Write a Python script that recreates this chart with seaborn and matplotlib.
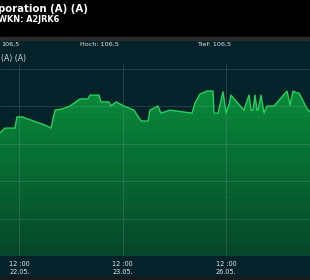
import numpy as np
import pandas as pd
import matplotlib
matplotlib.use("Agg")
import matplotlib.pyplot as plt
from matplotlib.patches import Rectangle, Polygon
from matplotlib.colors import LinearSegmentedColormap
import seaborn as sns

# ---- data (time in trading days from 22.05. 12:00, price) ----
t = [-0.189, -0.140, -0.044, -0.024, 0.024, 0.247, 0.305, 0.344, 0.412, 0.489,
     0.586, 0.663, 0.683, 0.770, 0.789, 0.867, 0.886, 0.935, 1.012, 1.109,
     1.177, 1.245, 1.264, 1.341, 1.370, 1.458, 1.671, 1.700, 1.748, 1.816,
     1.874, 1.884, 1.923, 1.971, 2.000, 2.029, 2.048, 2.174, 2.223, 2.242,
     2.262, 2.281, 2.300, 2.310, 2.339, 2.368, 2.397, 2.465, 2.591, 2.620,
     2.649, 2.688, 2.707, 2.785, 2.814]
price = [106.29, 106.42, 106.42, 106.72, 106.72, 106.50, 106.42, 106.90, 106.93, 107.01,
         107.20, 107.20, 107.30, 107.30, 107.12, 107.12, 107.01, 107.12, 107.01, 106.90,
         106.61, 106.61, 106.90, 107.01, 106.82, 106.90, 106.82, 107.09, 107.33, 107.41,
         107.41, 106.82, 106.82, 107.39, 106.82, 107.04, 107.30, 106.90, 107.30, 106.90,
         106.90, 107.30, 106.90, 106.90, 107.30, 106.82, 107.01, 107.01, 107.41, 107.04,
         107.41, 107.36, 107.36, 106.93, 106.85]
tick_pos = [0, 1, 2]
tick_labels = ["12 :00\n22.05.", "12 :00\n23.05.", "12 :00\n26.05."]
title = "poration (A) (A)"
wkn = "WKN: A2JRK6"
last_txt = "106,5"
hoch_txt = "Hoch: 106,5"
tief_txt = "Tief: 106,5"
sub_txt = "(A) (A)"

df = pd.DataFrame({"t": t, "price": price})

sns.set_theme(style="dark")
plt.rcParams["font.family"] = ["DejaVu Sans"]

W, H = 310, 280
fig = plt.figure(figsize=(W / 100, H / 100), dpi=100)
fig.patch.set_facecolor("#03222a")

def fy(py):
    return 1 - py / H

# top black band and grey strip, bottom strip
fig.patches.append(Rectangle((0, fy(37)), 1, 1, transform=fig.transFigure, color="#000000", zorder=0))
fig.patches.append(Rectangle((0, fy(40)), 1, 3 / H, transform=fig.transFigure, color="#2b2b2b", zorder=0))
fig.patches.append(Rectangle((0, 0), 1, 3 / H, transform=fig.transFigure, color="#1a1a1a", zorder=0))

fig.text(-2 / W, fy(9), title, color="white", fontsize=7.3, fontweight="bold", va="center", ha="left")
fig.text(-1.5 / W, fy(19), wkn, color="white", fontsize=5.9, fontweight="bold", va="center", ha="left")
fig.text(1 / W, fy(44), last_txt, color="#e0e6e6", fontsize=4.6, va="center", ha="left")
fig.text(80 / W, fy(44), hoch_txt, color="#e0e6e6", fontsize=4.6, va="center", ha="left")
fig.text(197 / W, fy(44), tief_txt, color="#e0e6e6", fontsize=4.6, va="center", ha="left")
fig.text(1 / W, fy(58), sub_txt, color="#d0d8d8", fontsize=5.6, va="center", ha="left")

top_px, bot_px = 64, 256
ax = fig.add_axes([0, fy(bot_px), 1, (bot_px - top_px) / H])
ax.set_facecolor("#03222a")
ymin = 103.0
ymax = ymin + (bot_px - top_px) / 37.4
ax.set_ylim(ymin, ymax)
xmin, xmax = -19.5 / 103.25, (310 - 19.5) / 103.25
ax.set_xlim(xmin, xmax)

# gradient fill
grad = np.linspace(0, 1, 256).reshape(-1, 1)
cmap = LinearSegmentedColormap.from_list("g", ["#06462a", "#0a8a3b"])
top_val = max(price)
img = ax.imshow(grad, extent=[xmin, xmax, ymin, top_val], origin="lower", cmap=cmap,
                aspect="auto", zorder=1)
verts = [(xmin, ymin)] + list(zip(t, price)) + [(xmax, ymin)]
poly = Polygon(verts, closed=True, facecolor="none", edgecolor="none")
ax.add_patch(poly)
img.set_clip_path(poly)

sns.lineplot(data=df, x="t", y="price", ax=ax, color="#22d35a", linewidth=1.0, zorder=3)

ax.set_yticks([104, 105, 106, 107, 108])
ax.set_xticks(tick_pos)
ax.grid(True, color="#8fb0a8", alpha=0.22, linewidth=0.7, zorder=2)
ax.set_axisbelow(False)
for s in ax.spines.values():
    s.set_visible(False)
ax.set_xlabel("")
ax.set_ylabel("")
ax.tick_params(left=False, bottom=False, labelleft=False, labelbottom=False)

for p, lab in zip(tick_pos, tick_labels):
    xf = (p - xmin) / (xmax - xmin)
    l1, l2 = lab.split("\n")
    fig.text(xf, fy(263.5), l1, color="#e6eaea", fontsize=4.7, ha="center", va="center")
    fig.text(xf, fy(271.5), l2, color="#e6eaea", fontsize=4.7, ha="center", va="center")

fig.savefig("out.png", dpi=100, facecolor=fig.get_facecolor())
